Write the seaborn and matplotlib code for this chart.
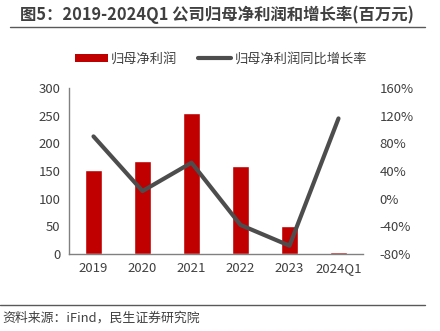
import matplotlib
matplotlib.use("Agg")
import matplotlib.pyplot as plt
import seaborn as sns
import pandas as pd
from matplotlib.lines import Line2D
from matplotlib.patches import Patch

sns.set_theme(style="white")
plt.rcParams['font.family'] = ['Noto Sans CJK SC', 'DejaVu Sans']

years = ["2019", "2020", "2021", "2022", "2023", "2024Q1"]
net_profit = [152, 168, 254, 159, 51, 3]
growth_pct = [90, 11, 52, -38, -68, 116]

df = pd.DataFrame({"year": years, "profit": net_profit, "growth": growth_pct})

fig = plt.figure(figsize=(4.4, 3.31), dpi=100)
ax = fig.add_axes([69/440, 1-254/331, 294/440, 166/331])

sns.barplot(data=df, x="year", y="profit", color="#c00000", width=0.33,
            saturation=1, ax=ax)
ax.set_ylim(0, 300)
ax.set_xlim(-0.5, 5.5)
ax.set_yticks(range(0, 301, 50))
ax.set_xlabel("")
ax.set_ylabel("")
tick_color = "#404040"
ax.tick_params(axis="both", labelsize=9.5, colors=tick_color, length=0, pad=6)
for s in ["top", "right"]:
    ax.spines[s].set_visible(False)
for s in ["left", "bottom"]:
    ax.spines[s].set_color("#808080")
    ax.spines[s].set_linewidth(1)

ax2 = ax.twinx()
sns.lineplot(x=list(range(len(years))), y=growth_pct, ax=ax2, color="#4d4d4d",
             linewidth=3)
ax2.set_ylim(-80, 160)
ax2.set_yticks(range(-80, 161, 40))
ax2.set_yticklabels([f"{v}%" for v in range(-80, 161, 40)])
ax2.tick_params(axis="y", labelsize=9.5, colors=tick_color, length=0, pad=12)
for s in ["top", "right", "left", "bottom"]:
    ax2.spines[s].set_visible(False)

# Title with rule underneath
fig.text(20/440, 1-15/331, "图5：2019-2024Q1 公司归母净利润和增长率(百万元)",
         fontsize=11.8, fontweight="bold", color="#404040", va="center", ha="left")
fig.add_artist(Line2D([10/440, 425/440], [1-27/331, 1-27/331],
                      color="#595959", linewidth=1))

# Legend
handles = [Patch(facecolor="#c00000", edgecolor="none"),
           Line2D([0], [0], color="#4d4d4d", linewidth=3)]
fig.legend(handles, ["归母净利润", "归母净利润同比增长率"], loc="center",
           bbox_to_anchor=(221/440, 1-59/331), ncol=2, frameon=False,
           fontsize=9.5, labelcolor="#404040", handlelength=2.5,
           handleheight=0.5, handletextpad=0.25, columnspacing=1.6)

# Footer
fig.add_artist(Line2D([0, 425/440], [1-305/331, 1-305/331],
                      color="#595959", linewidth=1))
fig.text(2/440, 1-318/331, "资料来源：iFind，民生证券研究院", fontsize=9.3,
         color="#404040", va="center", ha="left")

fig.savefig("out.png", dpi=100)
